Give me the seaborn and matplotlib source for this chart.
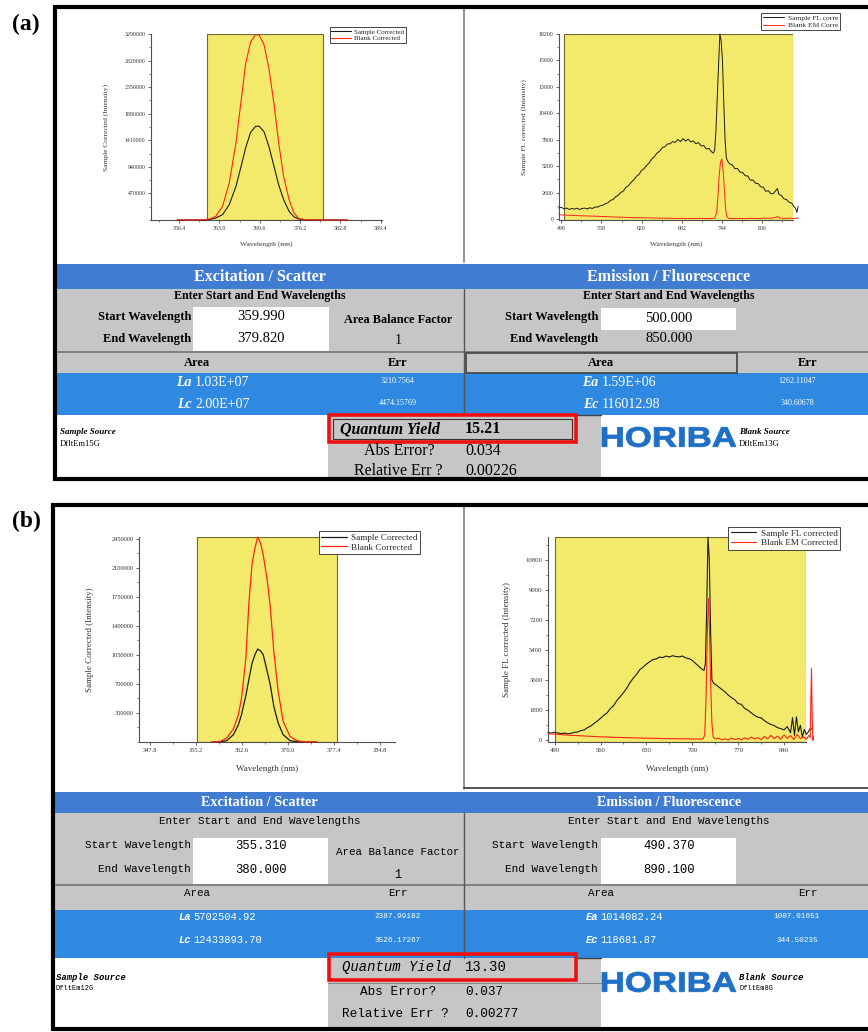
import numpy as np
import matplotlib
matplotlib.use("Agg")
import matplotlib.pyplot as plt
import seaborn as sns
from matplotlib.patches import Rectangle, PathPatch
from matplotlib.ticker import AutoMinorLocator
from matplotlib.textpath import TextPath
from matplotlib.font_manager import FontProperties
from matplotlib.transforms import Affine2D

# ---------------- DATA ----------------
# (a) excitation / scatter
a_ex_wl = [356.1, 358.0, 360.0, 361.35, 362.4, 363.5, 364.6, 365.7, 366.5, 367.3, 368.1, 368.9, 369.5,
           370.3, 371.1, 371.9, 372.7, 373.5, 374.4, 375.2, 376.0, 377.1, 379.0, 381.0, 384.0]
a_ex_sample = [0, 0, 1000, 8000, 35000, 94000, 271000, 594000, 930000, 1280000, 1550000, 1655000, 1660000,
               1560000, 1300000, 960000, 620000, 360000, 153000, 55000, 15000, 4000, 0, 0, 0]
a_ex_blank = [0, 0, 2000, 18000, 65000, 241000, 653000, 1360000, 2070000, 2770000, 3150000, 3280000, 3270000,
              3100000, 2680000, 2070000, 1360000, 771000, 359000, 124000, 24000, 6000, 0, 0, 0]
a_ex_xticks = [356.4, 363.0, 369.6, 376.2, 382.8, 389.4]
a_ex_yticks = [470000, 940000, 1410000, 1880000, 2350000, 2820000, 3290000]

# (a) emission / fluorescence
a_em_wl = [492, 496, 500, 504, 508, 512, 516, 520, 524, 528, 532, 536, 540, 544, 548, 552, 556, 560, 564, 568,
           572, 576, 580, 584, 588, 592, 596, 600, 604, 608, 612, 616, 620, 624, 628, 632, 636, 640, 644, 648,
           652, 656, 660, 664, 668, 672, 676, 680, 684, 688, 692, 696, 700, 704, 708, 712, 716, 720, 724, 728,
           731, 733, 735, 737, 739, 741, 743, 745, 747, 749, 751, 753, 756, 760, 764, 768, 772, 776, 780, 784,
           788, 792, 796, 800, 804, 808, 812, 816, 820, 824, 828, 830, 832, 836, 840, 844, 848, 852, 855, 858,
           860, 862]
a_em_sample = [1080, 1150, 990, 1080, 940, 1030, 970, 1060, 940, 1030, 1070, 980, 1110, 1030, 1180, 1170, 1300, 1350,
               1510, 1590, 1830, 1920, 2190, 2340, 2610, 2760, 3130, 3290, 3610, 3850, 4200, 4380, 4780, 4960,
               5290, 5550, 5920, 6150, 6500, 6660, 7020, 7120, 7380, 7400, 7620, 7520, 7820, 7620, 7900, 7660,
               7850, 7580, 7680, 7400, 7520, 7180, 7240, 6880, 6950, 6620, 6480, 6800, 8770, 12000, 15200,
               18200, 17500, 15640, 11500, 7800, 6000, 5700, 5420, 5330, 4960, 4980, 4620, 4590, 4260, 4230,
               3820, 3840, 3520, 3480, 3170, 3120, 2720, 2780, 2480, 2520, 2850, 3000, 2420, 2320, 1980, 1920,
               1640, 1560, 1250, 1050, 650, 1250]
a_em_blank_wl = [492, 500, 510, 520, 530, 540, 550, 560, 570, 580, 590, 600, 610, 620, 630, 640, 650, 660, 670,
                 680, 690, 700, 710, 720, 728, 733, 736, 738, 740, 742, 744, 746, 748, 750, 752, 755, 760, 770,
                 780, 790, 800, 810, 820, 826, 830, 834, 840, 850, 856, 862]
a_em_blank = [420, 380, 360, 330, 310, 290, 270, 240, 220, 190, 170, 150, 130, 120, 110, 90, 80, 70, 60,
              60, 50, 50, 60, 40, 50, 80, 600, 2200, 4300, 5600, 5900, 4800, 2800, 900, 200, 60, 40, 60,
              30, 70, 40, 90, 60, 150, 230, 90, 50, 80, 40, 120]
a_em_xticks = [496, 558, 620, 682, 744, 806]
a_em_yticks = [0, 2600, 5200, 7800, 10400, 13000, 15600, 18200]

# (b) excitation / scatter
b_ex_wl = [357.7, 359.1, 360.1, 361.2, 362.0, 362.5, 363.2, 363.7, 364.2, 364.7, 365.1, 365.6, 366.0, 366.6,
           367.1, 367.7, 368.4, 369.2, 370.3, 371.4, 372.5, 374.6]
b_ex_sample = [0, 3000, 16000, 88000, 208000, 330000, 560000, 760000, 950000, 1060000, 1120000, 1095000, 1050000,
               860000, 700000, 428000, 228000, 88000, 16000, 3000, 0, 0]
b_ex_blank = [0, 8000, 48000, 160000, 328000, 528000, 1010000, 1690000, 2150000, 2350000, 2470000, 2390000,
              2250000, 1970000, 1650000, 1090000, 608000, 248000, 68000, 16000, 2000, 0]
b_ex_xticks = [347.8, 355.2, 362.6, 370.0, 377.4, 384.8]
b_ex_yticks = [350000, 700000, 1050000, 1400000, 1750000, 2100000, 2450000]

# (b) emission / fluorescence
b_em_wl = [480, 485, 490, 495, 500, 505, 510, 515, 520, 525, 530, 535, 540, 545, 550, 555, 560, 565, 570, 575,
           580, 585, 590, 595, 600, 605, 610, 615, 620, 625, 630, 635, 640, 645, 650, 655, 660, 665, 670, 675,
           680, 685, 690, 695, 700, 705, 710, 715, 718, 720, 722, 724, 726, 728, 730, 733, 735, 740, 745, 750,
           755, 760, 765, 770, 775, 780, 785, 790, 795, 800, 805, 810, 815, 820, 825, 830, 835, 840, 845, 850,
           853, 856, 859, 862, 865, 868, 871, 874, 877, 880, 884]
b_em_sample = [470, 430, 480, 440, 400, 430, 390, 420, 470, 500, 580, 620, 760, 850, 1010, 1150, 1320, 1500,
               1640, 1900, 2080, 2380, 2610, 2850, 3120, 3450, 3720, 3950, 4230, 4380, 4560, 4700, 4830, 4870,
               4980, 4950, 5040, 4980, 5060, 5010, 4990, 5040, 4930, 4890, 4780, 4600, 4420, 4250, 4180, 4600,
               7800, 12150, 10800, 6500, 3600, 3400, 3350, 3200, 3050, 2900, 2700, 2550, 2420, 2200, 2150,
               1900, 1800, 1640, 1500, 1380, 1350, 1180, 1050, 950, 880, 760, 700, 620, 820, 450, 1350, 300,
               1400, 500, 900, 200, 650, 350, 500, 700, 650]
b_em_blank_wl = [480, 490, 500, 510, 520, 530, 540, 550, 560, 570, 580, 590, 600, 610, 620, 630, 640, 650, 660,
                 670, 680, 690, 700, 710, 716, 719, 721, 723, 724.8, 726, 728, 730, 732, 735, 740, 745, 750,
                 755, 760, 765, 770, 775, 780, 785, 790, 795, 800, 805, 810, 815, 820, 825, 830, 835, 840, 845,
                 850, 855, 860, 865, 870, 874, 878, 880, 881, 882, 883, 884, 885]
b_em_blank = [400, 370, 340, 310, 290, 270, 250, 230, 210, 200, 180, 170, 160, 150, 140, 130, 120, 110, 100,
              100, 90, 90, 80, 80, 70, 300, 2500, 6500, 8470, 7000, 3500, 1000, 200, 90, 120, 40, 90, 20, 140,
              50, 110, 30, 150, 60, 200, 80, 160, 40, 230, 90, 300, 100, 250, 60, 320, 120, 280, 50, 350, 100,
              200, 60, 300, 150, 2500, 4280, 1500, 0, 200]
b_em_xticks = [490, 560, 630, 700, 770, 840]
b_em_yticks = [0, 1800, 3600, 5400, 7200, 9000, 10800]

# table texts
a_table = dict(ex_start="359.990", ex_end="379.820", em_start="500.000", em_end="850.000", abf="1",
               La="1.03E+07", Lc="2.00E+07", La_err="3210.7564", Lc_err="4474.15769",
               Ea="1.59E+06", Ec="116012.98", Ea_err="1262.11047", Ec_err="340.60678",
               qy="15.21", abs_err="0.034", rel_err="0.00226", sample_src="DfltEm15G", blank_src="DfltEm13G")
b_table = dict(ex_start="355.310", ex_end="380.000", em_start="490.370", em_end="890.100", abf="1",
               La="5702504.92", Lc="12433893.70", La_err="2387.99182", Lc_err="3526.17267",
               Ea="1014082.24", Ec="118681.87", Ea_err="1007.01651", Ec_err="344.50235",
               qy="13.30", abs_err="0.037", rel_err="0.00277", sample_src="DfltEm12G", blank_src="DfltEm8G")

# ---------------- STYLE ----------------
sns.set_style("ticks")
plt.rcParams['font.family'] = ['Liberation Serif', 'DejaVu Serif']
SERIF = ['Liberation Serif', 'DejaVu Serif']
MONO = ['Liberation Mono', 'DejaVu Sans Mono']
YELLOW = '#f3ea6c'
BLACKLINE = '#1b1b1b'
REDLINE = '#ff2414'
GRAY = '#c6c6c6'
BLUE_HEAD = '#3f7cd2'
BLUE_ROW = '#2f89e0'
LOGO_BLUE = '#1f6fc6'

W, H = 868, 1032
fig = plt.figure(figsize=(8.68, 10.32), dpi=100)


def rect_px(x0, y0, x1, y1):
    return [x0 / W, 1 - y1 / H, (x1 - x0) / W, (y1 - y0) / H]


bg = fig.add_axes([0, 0, 1, 1], zorder=0)
bg.set_xlim(0, W)
bg.set_ylim(H, 0)
bg.axis('off')


def box(x0, y0, x1, y1, fc, ec='none', lw=0, z=1):
    bg.add_patch(Rectangle((x0, y0), x1 - x0, y1 - y0, facecolor=fc, edgecolor=ec, linewidth=lw, zorder=z))


def txt(x, y, s, size, ha='center', weight='normal', style='normal', color='black', family=SERIF, z=5):
    bg.text(x, y, s, fontsize=size, ha=ha, va='center', fontweight=weight, fontstyle=style,
            color=color, family=family, zorder=z)


def logo(x0, x1, y0, y1, s="HORIBA"):
    tp = TextPath((0, 0), s, size=10, prop=FontProperties(family='Liberation Sans', weight='bold'))
    bb = tp.get_extents()
    sx = (x1 - x0) / bb.width
    sy = (y1 - y0) / bb.height
    tr = Affine2D().translate(-bb.x0, -bb.y0).scale(sx, -sy).translate(x0, y1)
    bg.add_patch(PathPatch(tp, transform=tr + bg.transData, facecolor=LOGO_BLUE, edgecolor=LOGO_BLUE,
                           linewidth=0.6, zorder=5))


def spectrum(px, xlim, ylim, span, curves, xticks, yticks, xlabel, ylabel, labels, anchor,
             tick_fs, lab_fs, leg_fs, lw, xlpad, ylpad):
    ax = fig.add_axes(rect_px(*px), zorder=2)
    ax.set_facecolor('none')
    ax.axvspan(span[0], span[1], facecolor=YELLOW, edgecolor='#6e6a2c', lw=0.8, zorder=0)
    for (wl, val), color, lab in zip(curves, [BLACKLINE, REDLINE], labels):
        sns.lineplot(x=np.asarray(wl, float), y=np.asarray(val, float), ax=ax, color=color, lw=lw,
                     label=lab, sort=False, estimator=None, zorder=3)
    for ln in ax.lines:
        ln.set_clip_on(False)
    ax.set_xlim(*xlim)
    ax.set_ylim(*ylim)
    ax.set_xticks(xticks)
    ax.set_yticks(yticks)
    ax.set_xticklabels([f"{t:.1f}" if t < 400 else f"{t:g}" for t in xticks])
    ax.set_yticklabels([f"{int(t)}" for t in yticks])
    ax.xaxis.set_minor_locator(AutoMinorLocator(2))
    ax.yaxis.set_minor_locator(AutoMinorLocator(2))
    for s in ['top', 'right']:
        ax.spines[s].set_visible(False)
    for s in ['left', 'bottom']:
        ax.spines[s].set_color('#505050')
        ax.spines[s].set_linewidth(0.8)
    ax.tick_params(which='major', direction='out', length=2.5, width=0.6, labelsize=tick_fs, pad=1.5,
                   colors='#505050', labelcolor='#333333')
    ax.tick_params(which='minor', direction='out', length=1.5, width=0.5, colors='#505050')
    ax.set_xlabel(xlabel, fontsize=lab_fs, labelpad=xlpad, color='#333333')
    ax.set_ylabel(ylabel, fontsize=lab_fs, labelpad=ylpad, color='#333333')
    leg = ax.legend(loc='upper right', bbox_to_anchor=anchor, borderaxespad=0, frameon=True,
                    fancybox=False, edgecolor='#444444', framealpha=1, fontsize=leg_fs,
                    handlelength=2.8, borderpad=0.25, labelspacing=0.15, handletextpad=0.5)
    leg.get_frame().set_linewidth(0.7)
    leg.set_zorder(10)
    return ax


# ---------------- PANEL (a) ----------------
spectrum((151, 34, 382, 220), (351.8, 389.6), (0, 3290000), (361.0, 380.0),
         [(a_ex_wl, a_ex_sample), (a_ex_wl, a_ex_blank)], a_ex_xticks, a_ex_yticks,
         "Wavelength (nm)", "Sample Corrected (Intensity)", ["Sample Corrected", "Blank Corrected"],
         (1.104, 1.038), 4.2, 5.4, 5.0, 0.8, 7.5, 11)
spectrum((559, 34, 793, 220), (492.4, 854.0), (-100, 18200), (500.0, 854.0),
         [(a_em_wl, a_em_sample), (a_em_blank_wl, a_em_blank)], a_em_xticks, a_em_yticks,
         "Wavelength (nm)", "Sample FL corrected (Intensity)", ["Sample FL corre", "Blank EM Corre"],
         (1.201, 1.113), 4.2, 5.4, 5.4, 0.7, 7.5, 8)

bg.plot([463.5, 463.5], [9, 262], color='#8a8a8a', lw=1.3, zorder=2)

box(55, 264, 868, 289, BLUE_HEAD)
box(55, 289, 868, 373, GRAY)
box(55, 373, 868, 415, BLUE_ROW)
box(193, 307, 329, 351, 'white', z=2)
box(601, 308, 736, 330, 'white', z=2)
bg.plot([55, 868], [352, 352], color='#7a7a7a', lw=1.3, zorder=3)
bg.plot([464, 464], [289, 415], color='#555555', lw=1.0, zorder=3)
box(466, 352.5, 737, 373, 'none', ec='#444444', lw=1.2, z=3)
box(328, 415, 601, 478, GRAY)
bg.plot([576, 601], [415, 415], color='#444444', lw=1.0, zorder=3)
box(329, 415, 576, 442, 'none', ec='#ee1111', lw=2.6, z=4)
box(333, 418.5, 572, 439, 'none', ec='#333333', lw=0.8, z=4)

txt(260, 277, "Excitation / Scatter", 11.5, weight='bold', color='white')
txt(669, 277, "Emission / Fluorescence", 11.5, weight='bold', color='white')
txt(260, 296, "Enter Start and End Wavelengths", 8.6, weight='bold')
txt(669, 296, "Enter Start and End Wavelengths", 8.6, weight='bold')
txt(191, 317, "Start Wavelength", 9.0, ha='right', weight='bold')
txt(191, 339, "End Wavelength", 9.0, ha='right', weight='bold')
txt(261, 317, a_table['ex_start'], 10.5)
txt(261, 339, a_table['ex_end'], 10.5)
txt(398, 320, "Area Balance Factor", 8.8, weight='bold')
txt(398, 340, a_table['abf'], 10)
txt(598, 317, "Start Wavelength", 9.0, ha='right', weight='bold')
txt(598, 339, "End Wavelength", 9.0, ha='right', weight='bold')
txt(669, 318, a_table['em_start'], 10.5)
txt(669, 339, a_table['em_end'], 10.5)
txt(197, 363, "Area", 9.0, weight='bold')
txt(398, 363, "Err", 9.0, weight='bold')
txt(601, 363, "Area", 9.0, weight='bold')
txt(808, 363, "Err", 9.0, weight='bold')
txt(192, 383, "La", 10, ha='right', weight='bold', style='italic', color='white')
txt(195, 383, a_table['La'], 10, ha='left', color='white')
txt(192, 404, "Lc", 10, ha='right', weight='bold', style='italic', color='white')
txt(195, 404, a_table['Lc'], 10, ha='left', color='white')
txt(398, 381, a_table['La_err'], 5.8, color='white')
txt(398, 403, a_table['Lc_err'], 5.8, color='white')
txt(598, 383, "Ea", 10, ha='right', weight='bold', style='italic', color='white')
txt(602, 383, a_table['Ea'], 10, ha='left', color='white')
txt(598, 404, "Ec", 10, ha='right', weight='bold', style='italic', color='white')
txt(602, 404, a_table['Ec'], 10, ha='left', color='white')
txt(797, 381, a_table['Ea_err'], 5.8, color='white')
txt(797, 403, a_table['Ec_err'], 5.8, color='white')
txt(60, 432, "Sample Source", 6.5, ha='left', weight='bold', style='italic')
txt(60, 444, a_table['sample_src'], 6.2, ha='left')
txt(340, 429, "Quantum Yield", 11.5, ha='left', weight='bold', style='italic')
txt(465, 429, a_table['qy'], 11.5, ha='left', weight='bold')
txt(399, 451, "Abs Error?", 11.5)
txt(465, 451, a_table['abs_err'], 11.5, ha='left')
txt(398, 471, "Relative Err ?", 11.5)
txt(465, 471, a_table['rel_err'], 11.5, ha='left')
logo(602, 736, 427, 447)
txt(739, 432, "Blank Source", 6.5, ha='left', weight='bold', style='italic')
txt(739, 444, a_table['blank_src'], 6.2, ha='left')

bg.plot([870, 54.5, 54.5, 870], [7, 7, 479, 479], color='black', lw=3.0, zorder=8, solid_joinstyle='miter')
txt(26, 24, "(a)", 17, weight='bold')

# ---------------- PANEL (b) ----------------
spectrum((139, 537, 395, 742), (346.0, 387.2), (0, 2470000), (355.3, 377.9),
         [(b_ex_wl, b_ex_sample), (b_ex_wl, b_ex_blank)], b_ex_xticks, b_ex_yticks,
         "Wavelength (nm)", "Sample Corrected (Intensity)", ["Sample Corrected", "Blank Corrected"],
         (1.098, 1.029), 4.6, 6.5, 6.6, 0.9, 9, 12.5)
spectrum((548, 537, 806, 742), (479.8, 873.6), (-100, 12157), (490.37, 873.6),
         [(b_em_wl, b_em_sample), (b_em_blank_wl, b_em_blank)], b_em_xticks, b_em_yticks,
         "Wavelength (nm)", "Sample FL corrected (Intensity)", ["Sample FL corrected", "Blank EM Corrected"],
         (1.132, 1.049), 4.8, 6.5, 6.6, 0.8, 9, 10.5)

bg.plot([463.5, 463.5], [507, 789], color='#8a8a8a', lw=1.3, zorder=2)
bg.plot([464, 868], [788, 788], color='#333333', lw=1.2, zorder=2)

box(53, 792, 868, 813, BLUE_HEAD)
box(53, 813, 868, 910, GRAY)
box(53, 910, 868, 958, BLUE_ROW)
box(193, 838, 328, 885, 'white', z=2)
box(601, 838, 736, 885, 'white', z=2)
bg.plot([53, 868], [885, 885], color='#7a7a7a', lw=1.3, zorder=3)
bg.plot([464, 464], [813, 958], color='#555555', lw=1.0, zorder=3)
box(328, 958, 601, 1030, GRAY)
bg.plot([576, 601], [958, 958], color='#444444', lw=1.0, zorder=3)
box(329, 954, 576, 980, 'none', ec='#ee1111', lw=2.6, z=4)
bg.plot([328, 601], [983, 983], color='#888888', lw=0.8, zorder=3)

txt(259, 802, "Excitation / Scatter", 10.2, weight='bold', color='white')
txt(669, 802, "Emission / Fluorescence", 10.2, weight='bold', color='white')
txt(260, 821, "Enter Start and End Wavelengths", 7.8, family=MONO)
txt(669, 821, "Enter Start and End Wavelengths", 7.8, family=MONO)
txt(191, 845, "Start Wavelength", 7.9, ha='right', family=MONO)
txt(191, 869, "End Wavelength", 7.9, ha='right', family=MONO)
txt(261, 846, b_table['ex_start'], 8.8, family=MONO)
txt(261, 870, b_table['ex_end'], 8.8, family=MONO)
txt(398, 852, "Area Balance Factor", 7.8, family=MONO)
txt(398, 875, b_table['abf'], 8.5, family=MONO)
txt(598, 845, "Start Wavelength", 7.9, ha='right', family=MONO)
txt(598, 869, "End Wavelength", 7.9, ha='right', family=MONO)
txt(669, 846, b_table['em_start'], 8.8, family=MONO)
txt(669, 870, b_table['em_end'], 8.8, family=MONO)
txt(197, 893, "Area", 7.8, family=MONO)
txt(398, 893, "Err", 7.8, family=MONO)
txt(601, 893, "Area", 7.8, family=MONO)
txt(808, 893, "Err", 7.8, family=MONO)
txt(191, 917, "La", 7.6, ha='right', weight='bold', style='italic', color='white', family=MONO)
txt(193, 917, b_table['La'], 7.6, ha='left', color='white', family=MONO)
txt(191, 940, "Lc", 7.6, ha='right', weight='bold', style='italic', color='white', family=MONO)
txt(193, 940, b_table['Lc'], 7.6, ha='left', color='white', family=MONO)
txt(398, 916, b_table['La_err'], 5.6, color='white', family=MONO)
txt(398, 940, b_table['Lc_err'], 5.6, color='white', family=MONO)
txt(598, 917, "Ea", 7.6, ha='right', weight='bold', style='italic', color='white', family=MONO)
txt(600, 917, b_table['Ea'], 7.6, ha='left', color='white', family=MONO)
txt(598, 940, "Ec", 7.6, ha='right', weight='bold', style='italic', color='white', family=MONO)
txt(600, 940, b_table['Ec'], 7.6, ha='left', color='white', family=MONO)
txt(797, 916, b_table['Ea_err'], 5.6, color='white', family=MONO)
txt(797, 940, b_table['Ec_err'], 5.6, color='white', family=MONO)
txt(56, 978, "Sample Source", 6.4, ha='left', weight='bold', style='italic', family=MONO)
txt(56, 988, b_table['sample_src'], 5.0, ha='left', family=MONO)
txt(342, 967, "Quantum Yield", 10.0, ha='left', style='italic', family=MONO)
txt(465, 967, b_table['qy'], 10.0, ha='left', family=MONO)
txt(398, 992, "Abs Error?", 9.2, family=MONO)
txt(465, 992, b_table['abs_err'], 9.2, ha='left', family=MONO)
txt(342, 1014, "Relative Err ?", 9.2, ha='left', family=MONO)
txt(465, 1014, b_table['rel_err'], 9.2, ha='left', family=MONO)
logo(602, 736, 972, 992)
txt(739, 978, "Blank Source", 6.4, ha='left', weight='bold', style='italic', family=MONO)
txt(739, 988, b_table['blank_src'], 5.0, ha='left', family=MONO)

bg.plot([870, 52.5, 52.5, 870], [505, 505, 1029, 1029], color='black', lw=3.0, zorder=8, solid_joinstyle='miter')
txt(26, 521, "(b)", 17, weight='bold')

fig.savefig("out.png", dpi=100, facecolor='white')
